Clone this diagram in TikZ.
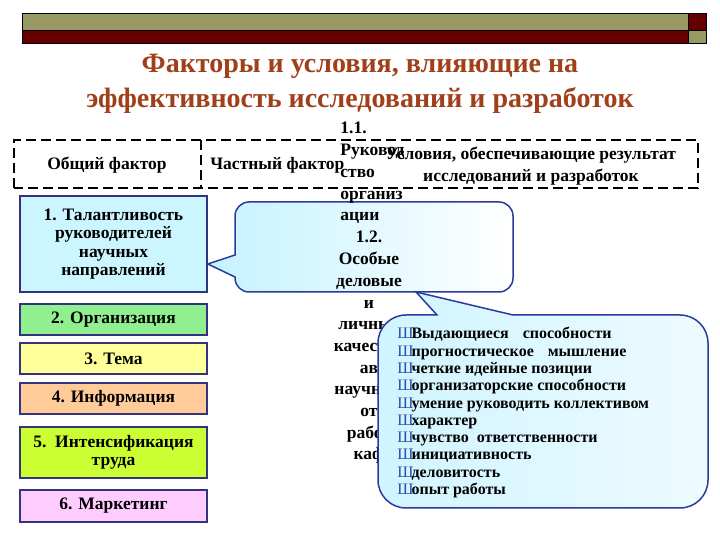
\documentclass[tikz,border=0pt]{standalone}
\usepackage{fontspec}
\setmainfont{Liberation Serif}

\definecolor{oliva}{HTML}{999966}
\definecolor{rossoscuro}{HTML}{660000}
\definecolor{titolo}{HTML}{A0401A}
\definecolor{bordoblu}{HTML}{333380}
\definecolor{bolla}{HTML}{2B3A9E}
\definecolor{bulblu}{HTML}{2A4CB0}
\definecolor{azzurro}{HTML}{CCF6FF}
\definecolor{verde}{HTML}{90F090}
\definecolor{giallo}{HTML}{FFFF99}
\definecolor{arancio}{HTML}{FFCC99}
\definecolor{lime}{HTML}{CCFF33}
\definecolor{rosa}{HTML}{FFCCFF}
\definecolor{ciano}{HTML}{C4F2FF}

\newcommand{\marcatore}{{\color{bulblu}\mdseries Ш}\kern-2pt}

\begin{document}
\begin{tikzpicture}[x=1pt, y=1pt, thick]
	% Stili del diagramma
	\tikzset{
		fattore/.style={draw=bordoblu, line width=1.6pt, minimum width=187pt, inner sep=2pt, align=center, font=\bfseries\fontsize{17.5}{18.5}\selectfont},
		intest/.style={font=\bfseries\fontsize{17.5}{22}\selectfont, inner sep=0pt, align=center},
		trattegg/.style={line width=1.6pt, dash pattern=on 10pt off 5pt},
		fumetto/.style={draw=bolla, line width=1.5pt},
		colonna/.style={font=\bfseries\fontsize{17.5}{21.7}\selectfont, inner sep=0pt}
	}
	\useasboundingbox (0,0) rectangle (720,540);
	
	% Barra superiore
	\filldraw[fill=oliva, draw=black, line width=.5pt] (22,510) rectangle (688,527);
	\filldraw[fill=rossoscuro, draw=black, line width=.5pt] (22,497) rectangle (688,510);
	\filldraw[fill=rossoscuro, draw=black, line width=.5pt] (688,510) rectangle (706,527);
	\filldraw[fill=oliva, draw=black, line width=.5pt] (688,497) rectangle (706,510);
	
	% Titolo
	\node[font=\bfseries\fontsize{28}{35}\selectfont, text=titolo, align=center] (titolo) at (360,456)
		{Факторы и условия, влияющие на\\эффективность исследований и разработок};
	
	% Intestazione tratteggiata
	\draw[trattegg] (14,352) rectangle (698,400);
	\draw[trattegg] (201,400) -- (201,352);
	\node[intest] (generale) at (107,375) {Общий фактор};
	\node[intest, anchor=west] (parziale) at (210,375) {Частный фактор};
	\node[intest] (condizioni) at (531,374) {Условия, обеспечивающие результат\\исследований и разработок};
	
	% Fattori generali
	\node[fattore, fill=azzurro, minimum height=96pt] (F1) at (113.5,296) {1. Талантливость\\руководителей\\научных\\направлений};
	\node[fattore, fill=verde, minimum height=31pt] (F2) at (113.5,220.5) {2. Организация};
	\node[fattore, fill=giallo, minimum height=31pt] (F3) at (113.5,181.5) {3. Тема};
	\node[fattore, fill=arancio, minimum height=31pt] (F4) at (113.5,141.5) {4. Информация};
	\node[fattore, fill=lime, minimum height=51pt] (F5) at (113.5,87.5) {5.\ \ Интенсификация\\труда};
	\node[fattore, fill=rosa, minimum height=32pt] (F6) at (113.5,34) {6. Маркетинг};
	
	% Primo fumetto (verso il fattore 1)
	\draw[fumetto, left color=ciano, right color=white]
		(249,338) -- (499,338) arc[start angle=90, end angle=0, radius=14]
		-- (513,262) arc[start angle=0, end angle=-90, radius=14]
		-- (249,248) arc[start angle=270, end angle=180, radius=14]
		-- (235,263) -- (F1.east |- 0,276) -- (235,285)
		-- (235,324) arc[start angle=180, end angle=90, radius=14] -- cycle;
	
	% Fattori particolari
	\node[colonna, anchor=north west, align=left] (p11) at (340,418) {1.1.\\Руковод\\ство\\организ\\ации};
	\node[colonna, anchor=north, align=center] (p12) at (369,309) {1.2.\\Особые\\деловые\\и\\личные\\качества\\ав\\научных\\от\\работ\\каф};
	
	% Secondo fumetto (qualita personali)
	\draw[fumetto, left color=ciano!80, right color=ciano!30]
		(406,225) -- (437,225) -- (416,248) -- (513,225)
		-- (680,225) arc[start angle=90, end angle=0, radius=28]
		-- (708,60) arc[start angle=0, end angle=-90, radius=28]
		-- (406,32) arc[start angle=270, end angle=180, radius=28]
		-- (378,197) arc[start angle=180, end angle=90, radius=28] -- cycle;
	\node[font=\bfseries\fontsize{16}{17.3}\selectfont, anchor=north west, align=left, inner sep=0pt] (qualita) at (397,213)
		{\marcatore Выдающиеся\hspace{14pt}способности\\
		 \marcatore прогностическое\hspace{14pt}мышление\\
		 \marcatore четкие идейные позиции\\
		 \marcatore организаторские способности\\
		 \marcatore умение руководить коллективом\\
		 \marcatore характер\\
		 \marcatore чувство\ \ ответственности\\
		 \marcatore инициативность\\
		 \marcatore деловитость\\
		 \marcatore опыт работы};
	
\end{tikzpicture}
\end{document}
